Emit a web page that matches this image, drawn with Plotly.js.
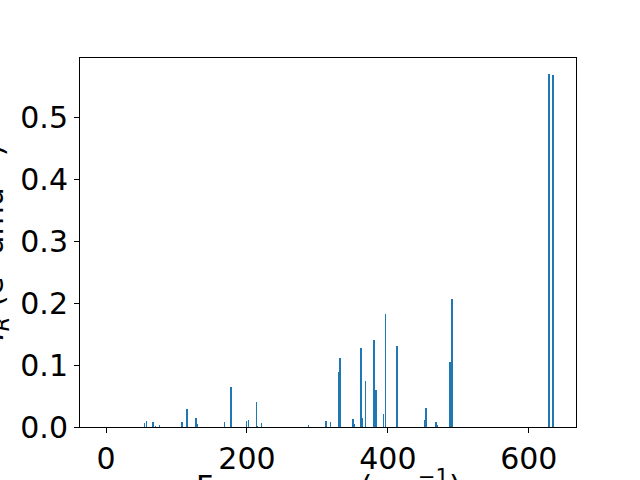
<!DOCTYPE html>
<html>
<head>
<meta charset="utf-8">
<script src="https://cdn.plot.ly/plotly-3.0.1.min.js"></script>
<style>html,body{margin:0;padding:0;background:#fff;}#chart{width:640px;height:480px;}</style>
</head>
<body>
<div id="chart"></div>
<script>
// Vibrational frequencies (cm^-1) and IR intensities (e^2 amu^-1)
var frequencies = [54.7, 57.0, 66.5, 70.0, 75.7, 107.7, 114.8, 127.9, 129.3, 168.0,
  177.6, 199.4, 202.5, 213.6, 215.0, 221.0, 287.0, 311.9, 318.3, 330.0,
  331.8, 350.3, 353.0, 361.6, 363.7, 368.0, 380.0, 383.0, 393.6, 397.0,
  412.8, 452.5, 454.0, 468.0, 469.6, 488.0, 491.0, 628.4, 634.1];
var intensities = [0.007, 0.010, 0.0086, 0.002, 0.0037, 0.0086, 0.0296, 0.015, 0.005, 0.0086,
  0.065, 0.010, 0.0118, 0.041, 0.002, 0.007, 0.003, 0.0097, 0.008, 0.089,
  0.112, 0.013, 0.005, 0.128, 0.015, 0.075, 0.141, 0.060, 0.021, 0.183,
  0.131, 0.012, 0.031, 0.008, 0.003, 0.105, 0.206, 0.569, 0.568];
var xTicks = [0, 200, 400, 600];
var yTicks = [0.0, 0.1, 0.2, 0.3, 0.4, 0.5];
var xTitle = 'Frequency (cm<sup>−1</sup>)';
var yTitle = '<i>I</i><sub><i>R</i></sub> (e<sup>2</sup> amu<sup>−1</sup>)';

var font = {family: 'DejaVu Sans, sans-serif', size: 30, color: '#000'};
var trace = {
  type: 'bar',
  x: frequencies,
  y: intensities,
  width: 2,
  marker: {color: '#1f77b4', line: {width: 0}},
  hoverinfo: 'x+y'
};
var layout = {
  width: 640, height: 480,
  margin: {l: 80, r: 64, t: 58, b: 53},
  paper_bgcolor: '#fff', plot_bgcolor: '#fff',
  showlegend: false,
  font: font,
  bargap: 0,
  xaxis: {
    range: [-37, 667],
    tickvals: xTicks,
    ticktext: xTicks.map(String),
    ticks: 'outside', ticklen: 5, tickwidth: 1, tickcolor: '#000',
    showline: true, mirror: true, linecolor: '#000', linewidth: 1,
    showgrid: false, zeroline: false,
    tickfont: font,
    automargin: false
  },
  yaxis: {
    range: [0, 0.5955],
    tickvals: yTicks,
    ticktext: yTicks.map(function(v){return v.toFixed(1);}),
    ticks: 'outside', ticklen: 5, tickwidth: 1, tickcolor: '#000',
    showline: true, mirror: true, linecolor: '#000', linewidth: 1,
    showgrid: false, zeroline: false,
    tickfont: font,
    automargin: false
  },
  annotations: [
    {text: xTitle, xref: 'paper', yref: 'paper', x: 0.5, y: 0,
     xanchor: 'center', yanchor: 'top', yshift: -36, showarrow: false, font: font},
    {text: yTitle, xref: 'paper', yref: 'paper', x: 0, y: 0.5, textangle: -90,
     xanchor: 'right', yanchor: 'middle', xshift: -64, showarrow: false, font: font}
  ]
};
Plotly.newPlot('chart', [trace], layout, {displayModeBar: false, staticPlot: true});
</script>
</body>
</html>
